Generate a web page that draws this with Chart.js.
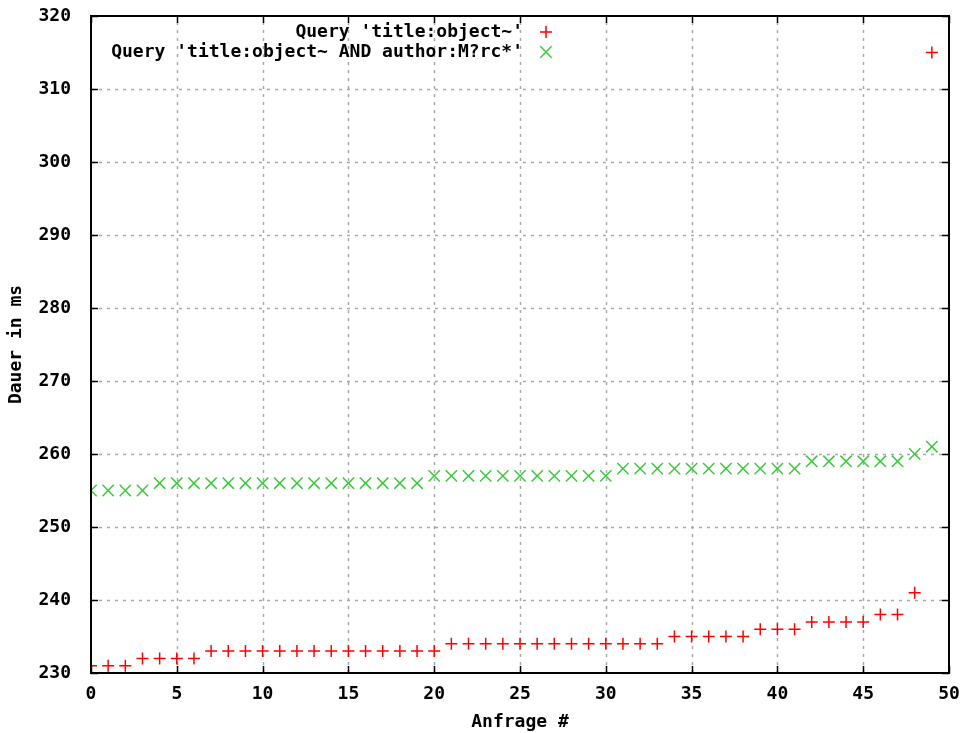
<!DOCTYPE html>
<html>
<head>
<meta charset="utf-8">
<script src="https://cdn.jsdelivr.net/npm/chart.js@4"></script>
<style>
html,body{margin:0;padding:0;background:#fff;}
#wrap{position:relative;width:966px;height:733px;}
</style>
</head>
<body>
<div id="wrap"><canvas id="c" width="966" height="733"></canvas></div>
<script>
const queryIndex = [0,1,2,3,4,5,6,7,8,9,10,11,12,13,14,15,16,17,18,19,20,21,22,23,24,25,26,27,28,29,30,31,32,33,34,35,36,37,38,39,40,41,42,43,44,45,46,47,48,49];
const seriesTitle = [231,231,231,232,232,232,232,233,233,233,233,233,233,233,233,233,233,233,233,233,233,234,234,234,234,234,234,234,234,234,234,234,234,234,235,235,235,235,235,236,236,236,237,237,237,237,238,238,241,315];
const seriesTitleAuthor = [255,255,255,255,256,256,256,256,256,256,256,256,256,256,256,256,256,256,256,256,257,257,257,257,257,257,257,257,257,257,257,258,258,258,258,258,258,258,258,258,258,258,259,259,259,259,259,259,260,261];
const seriesLabels = ["Query 'title:object~'", "Query 'title:object~ AND author:M?rc*'"];
const xTicks = [0,5,10,15,20,25,30,35,40,45,50];
const yTicks = [230,240,250,260,270,280,290,300,310,320];

const FONT = '"DejaVu Sans Mono", "Liberation Mono", monospace';
const FS = 18;
const RED = '#ff0000';
const GREEN = '#3cc83c';

const toPts = arr => arr.map((v,i)=>({x:queryIndex[i], y:v}));

const gridPlugin = {
  id:'gnugrid',
  beforeDatasetsDraw(chart){
    const {ctx, chartArea:a, scales:{x,y}} = chart;
    ctx.save();
    ctx.strokeStyle='#a8a8a8';
    ctx.lineWidth=1.5;
    ctx.setLineDash([3,5]);
    ctx.beginPath();
    xTicks.slice(1,-1).forEach(t=>{
      const px=Math.round(x.getPixelForValue(t))+0.5;
      ctx.moveTo(px,a.bottom); ctx.lineTo(px,a.top);
    });
    yTicks.slice(1,-1).forEach(t=>{
      const py=Math.round(y.getPixelForValue(t))+0.5;
      ctx.moveTo(a.left,py); ctx.lineTo(a.right,py);
    });
    ctx.stroke();
    ctx.restore();
  },
  afterDatasetsDraw(chart){
    const {ctx, chartArea:a, scales:{x,y}} = chart;
    ctx.save();
    ctx.strokeStyle='#000';
    ctx.lineWidth=1.5;
    ctx.beginPath();
    xTicks.forEach(t=>{
      const px=Math.round(x.getPixelForValue(t))+0.5;
      ctx.moveTo(px,a.bottom); ctx.lineTo(px,a.bottom-7);
      ctx.moveTo(px,a.top); ctx.lineTo(px,a.top+7);
    });
    yTicks.forEach(t=>{
      const py=Math.round(y.getPixelForValue(t))+0.5;
      ctx.moveTo(a.left,py); ctx.lineTo(a.left+7,py);
      ctx.moveTo(a.right,py); ctx.lineTo(a.right-7,py);
    });
    ctx.stroke();
    ctx.lineWidth=2;
    ctx.strokeRect(a.left,a.top,a.right-a.left,a.bottom-a.top);
    // legend
    ctx.font='bold '+FS+'px '+FONT;
    ctx.textAlign='right';
    ctx.textBaseline='middle';
    ctx.fillStyle='#000';
    const ly=[32,52];
    const cols=[RED,GREEN];
    const styles=['cross','crossRot'];
    const radii=[6,8];
    seriesLabels.forEach((s,i)=>{
      ctx.fillText(s,523,ly[i]);
      ctx.strokeStyle=cols[i];
      ctx.lineWidth=1.5;
      Chart.helpers.drawPoint(ctx,{pointStyle:styles[i],radius:radii[i],borderWidth:1.5},546,ly[i]);
    });
    ctx.restore();
  }
};

new Chart(document.getElementById('c'),{
  type:'scatter',
  data:{datasets:[
    {label:seriesLabels[0],data:toPts(seriesTitle),pointStyle:'cross',pointRadius:6,pointBorderWidth:1.5,borderColor:RED,backgroundColor:RED,pointHoverRadius:6},
    {label:seriesLabels[1],data:toPts(seriesTitleAuthor),pointStyle:'crossRot',pointRadius:8,pointBorderWidth:1.5,borderColor:GREEN,backgroundColor:GREEN,pointHoverRadius:8}
  ]},
  options:{
    responsive:false,animation:false,
    layout:{padding:{top:16,right:17,left:0,bottom:0}},
    plugins:{legend:{display:false},tooltip:{enabled:false}},
    scales:{
      x:{type:'linear',min:0,max:50,
        afterBuildTicks(s){s.ticks=xTicks.map(v=>({value:v}));},
        afterFit(s){s.height=60;s.paddingLeft=0;s.paddingRight=0;},
        grid:{display:false},
        border:{display:false},
        ticks:{font:{family:FONT,size:FS,weight:'bold'},color:'#000',padding:3,maxRotation:0},
        title:{display:true,text:'Anfrage #',font:{family:FONT,size:FS,weight:'bold'},color:'#000',padding:{top:12,bottom:0}}
      },
      y:{type:'linear',min:230,max:320,
        afterBuildTicks(s){s.ticks=yTicks.map(v=>({value:v}));},
        afterFit(s){s.width=91;s.paddingTop=0;s.paddingBottom=0;},
        grid:{display:false},
        border:{display:false},
        ticks:{font:{family:FONT,size:FS,weight:'bold'},color:'#000',padding:12},
        title:{display:true,text:'Dauer in ms',font:{family:FONT,size:FS,weight:'bold'},color:'#000',padding:{top:6,bottom:0}}
      }
    }
  },
  plugins:[gridPlugin]
});
</script>
</body>
</html>
